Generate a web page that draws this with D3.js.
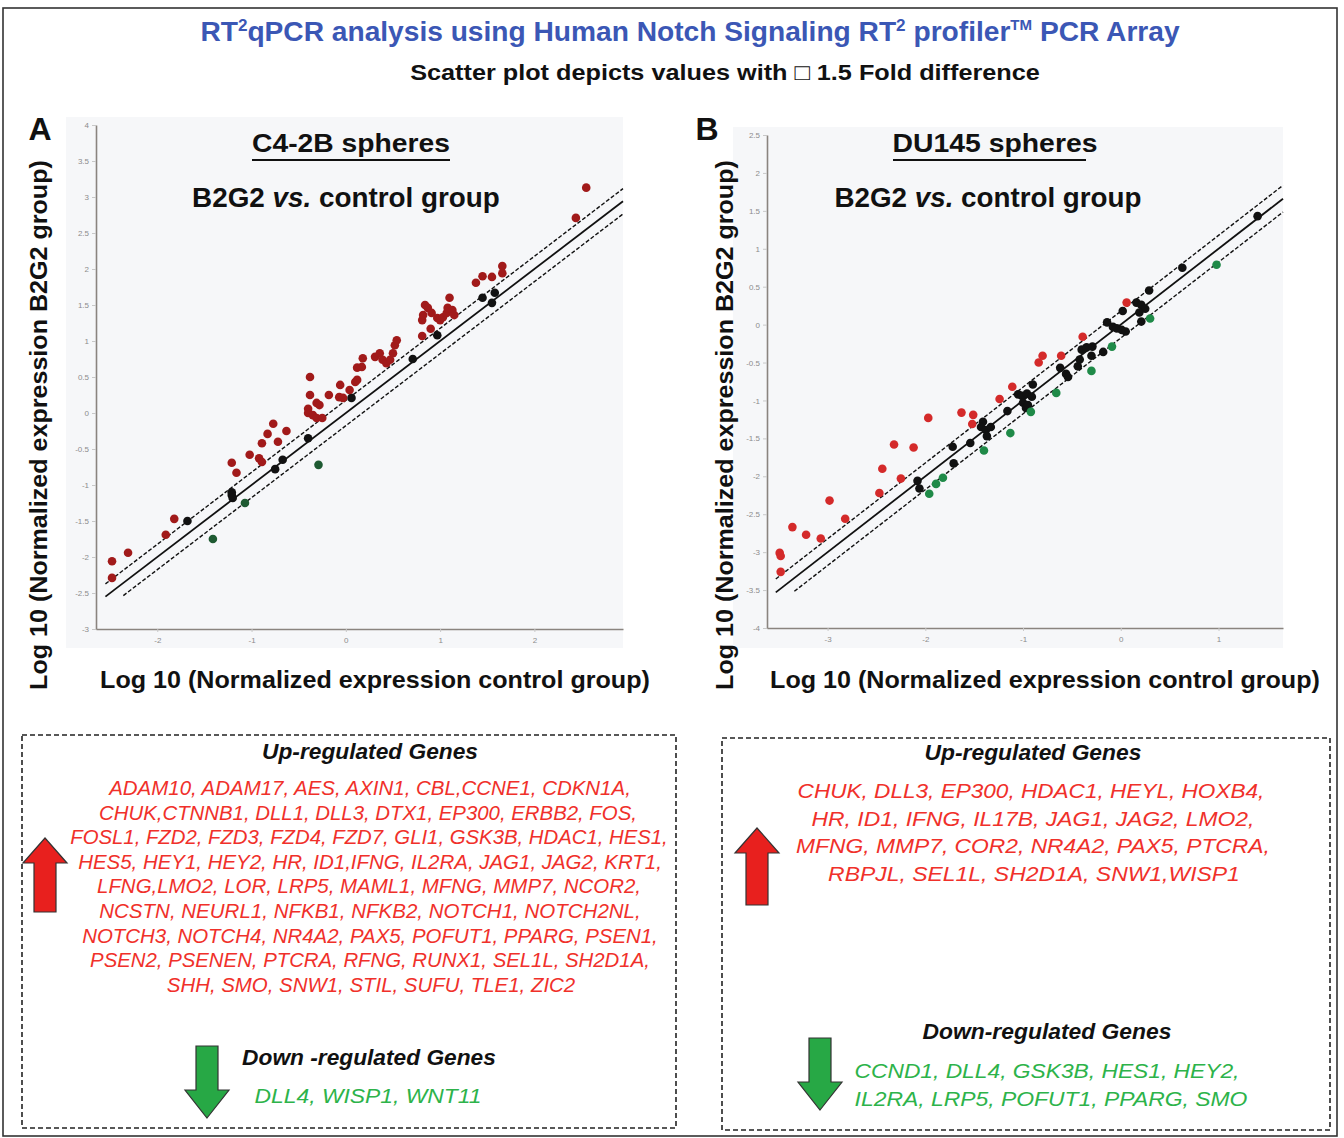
<!DOCTYPE html>
<html><head><meta charset="utf-8">
<script src="https://cdn.jsdelivr.net/npm/d3@7"></script>
<style>body{margin:0;background:#fff}svg{display:block}</style>
</head><body>
<svg id="chart" width="1344" height="1138"></svg>
<script>
// ---------- DATA (log10 normalized expression: [control, B2G2]) ----------
const c42bUp = [[2.55,3.13],[2.44,2.71],[-2.48,-2.06],[-2.31,-1.94],[-2.48,-2.29],[-1.91,-1.69],[-1.82,-1.47],
 [-1.21,-0.69],[-1.16,-0.83],[-1.02,-0.58],[-0.92,-0.63],[-0.89,-0.68],[-0.89,-0.42],[-0.83,-0.29],[-0.77,-0.15],
 [-0.72,-0.40],[-0.63,-0.25],[-0.38,0.50],[-0.38,0.25],[-0.40,0.06],[-0.40,0.00],[-0.31,0.14],[-0.28,0.11],
 [-0.35,-0.03],[-0.31,-0.07],[-0.25,-0.07],[-0.18,0.25],[-0.06,0.39],[-0.07,0.22],[-0.03,0.21],[0.04,0.32],
 [0.10,0.43],[0.12,0.46],[0.12,0.63],[0.17,0.64],[0.18,0.76],[0.31,0.78],[0.36,0.83],[0.39,0.74],[0.43,0.69],
 [0.47,0.74],[0.50,0.83],[0.52,0.94],[0.54,1.01],[0.81,1.07],[0.90,1.17],[0.81,1.29],[0.82,1.36],[0.84,1.50],
 [0.87,1.46],[0.91,1.39],[0.97,1.32],[1.00,1.29],[1.03,1.33],[1.07,1.39],[1.08,1.46],[1.10,1.60],[1.13,1.43],
 [1.15,1.36],[1.38,1.81],[1.45,1.90],[1.55,1.89],[1.66,2.04],[1.66,1.94]];
const c42bSame = [[-1.68,-1.50],[-1.21,-1.10],[-1.21,-1.14],[-1.20,-1.18],[-0.75,-0.78],[-0.67,-0.65],[-0.40,-0.35],
 [0.06,0.21],[0.71,0.75],[0.97,1.08],[1.45,1.60],[1.58,1.67],[1.55,1.53]];
const c42bDown = [[-1.41,-1.75],[-1.07,-1.25],[-0.29,-0.72]];

const du145Up = [[-3.49,-3.01],[-3.48,-3.05],[-3.48,-3.26],[-3.36,-2.67],[-3.22,-2.77],[-3.07,-2.82],[-2.98,-2.32],
 [-2.82,-2.56],[-2.47,-2.22],[-2.44,-1.90],[-2.32,-1.58],[-2.25,-2.03],[-2.12,-1.62],[-1.97,-1.23],[-1.63,-1.16],
 [-1.51,-1.19],[-1.52,-1.31],[-1.24,-0.98],[-1.11,-0.82],[-0.84,-0.50],[-0.80,-0.41],[-0.61,-0.41],[-0.39,-0.16],[0.06,0.29]];
const du145Same = [[-2.08,-2.06],[-2.06,-2.16],[-1.72,-1.61],[-1.71,-1.83],[-1.54,-1.56],[-1.41,-1.28],[-1.43,-1.35],
 [-1.38,-1.39],[-1.33,-1.35],[-1.37,-1.47],[-1.16,-1.14],[-1.05,-0.92],[-1.01,-0.94],[-0.96,-0.91],[-0.91,-0.95],
 [-0.90,-0.79],[-1.00,-1.03],[-0.97,-1.10],[-0.95,-1.06],[-0.62,-0.57],[-0.56,-0.65],[-0.54,-0.69],[-0.44,-0.55],
 [-0.42,-0.46],[-0.40,-0.33],[-0.35,-0.30],[-0.29,-0.29],[-0.30,-0.41],[-0.18,-0.36],[-0.14,0.03],[-0.08,-0.03],
 [-0.04,-0.05],[0.01,-0.07],[0.05,-0.09],[0.02,0.18],[0.16,0.29],[0.21,0.26],[0.25,0.21],[0.19,0.16],[0.21,0.04],
 [0.29,0.45],[0.63,0.75],[1.40,1.43]];
const du145Down = [[-1.96,-2.23],[-1.89,-2.10],[-1.82,-2.02],[-1.40,-1.66],[-1.13,-1.43],[-0.92,-1.15],[-0.66,-0.90],
 [-0.30,-0.61],[-0.09,-0.29],[0.30,0.08],[0.98,0.79]];

const c42bYTicks = [4,3.5,3,2.5,2,1.5,1,0.5,0,-0.5,-1,-1.5,-2,-2.5,-3];
const c42bXTicks = [-2,-1,0,1,2];
const du145YTicks = [2.5,2,1.5,1,0.5,0,-0.5,-1,-1.5,-2,-2.5,-3,-3.5,-4];
const du145XTicks = [-3,-2,-1,0,1];

const FOLD = Math.log10(1.5);
// fold-line x extents [start of y=x & upper line, start of lower line, end]
const c42bLineX = [-2.55, -2.36, 2.94];
const du145LineX = [-3.53, -3.34, 1.66];

const leftUpGenes = ["ADAM10, ADAM17, AES, AXIN1, CBL,CCNE1, CDKN1A,",
 "CHUK,CTNNB1, DLL1, DLL3, DTX1, EP300, ERBB2, FOS,",
 "FOSL1, FZD2, FZD3, FZD4, FZD7, GLI1, GSK3B, HDAC1, HES1,",
 "HES5, HEY1, HEY2, HR, ID1,IFNG, IL2RA, JAG1, JAG2, KRT1,",
 "LFNG,LMO2, LOR, LRP5, MAML1, MFNG, MMP7, NCOR2,",
 "NCSTN, NEURL1, NFKB1, NFKB2, NOTCH1, NOTCH2NL,",
 "NOTCH3, NOTCH4, NR4A2, PAX5, POFUT1, PPARG, PSEN1,",
 "PSEN2, PSENEN, PTCRA, RFNG, RUNX1, SEL1L, SH2D1A,",
 "SHH, SMO, SNW1, STIL, SUFU, TLE1, ZIC2"];
const leftDownGenes = ["DLL4, WISP1, WNT11"];
const rightUpGenes = ["CHUK, DLL3, EP300, HDAC1, HEYL, HOXB4,",
 "HR, ID1, IFNG, IL17B, JAG1, JAG2, LMO2,",
 "MFNG, MMP7, COR2, NR4A2, PAX5, PTCRA,",
 "RBPJL, SEL1L, SH2D1A, SNW1,WISP1"];
const rightDownGenes = ["CCND1, DLL4, GSK3B, HES1, HEY2,",
 "IL2RA, LRP5, POFUT1, PPARG, SMO"];

// ---------- DRAWING ----------
const svg = d3.select('#chart');
const FONT = "'Liberation Sans', Arial, sans-serif";

function fit(sel, cx, target) {
  const n = sel.node();
  const w = n.getBBox().width;
  if (w > 0) sel.attr('transform', `translate(${cx},0) scale(${target / w},1) translate(${-cx},0)`);
  return sel;
}
function text(x, y, str, size, opts = {}) {
  const t = svg.append('text').attr('x', x).attr('y', y).attr('text-anchor', opts.anchor || 'middle')
    .attr('font-family', FONT).attr('font-size', size).attr('font-weight', opts.weight || 'bold')
    .attr('font-style', opts.style || 'normal').attr('fill', opts.fill || '#111').text(str);
  if (opts.width) fit(t, x, opts.width);
  return t;
}

// outer frame
svg.append('rect').attr('x', 3).attr('y', 8).attr('width', 1334).attr('height', 1128)
  .attr('fill', 'none').attr('stroke', '#333').attr('stroke-width', 1.6);

// title
const title = svg.append('text').attr('x', 690).attr('y', 41).attr('text-anchor', 'middle')
  .attr('font-family', FONT).attr('font-size', 28).attr('font-weight', 'bold').attr('fill', '#3b57b5');
title.append('tspan').text('RT');
title.append('tspan').attr('font-size', 17).attr('dy', -10).text('2');
title.append('tspan').attr('dy', 10).text('qPCR analysis using Human Notch Signaling RT');
title.append('tspan').attr('font-size', 17).attr('dy', -10).text('2');
title.append('tspan').attr('dy', 10).text(' profiler');
title.append('tspan').attr('font-size', 15).attr('dy', -11).text('TM');
title.append('tspan').attr('dy', 11).text(' PCR Array');
fit(title, 690, 980);

text(725, 80, 'Scatter plot depicts values with \u25A1 1.5 Fold difference', 22.5, {width: 630});

function panel(cfg) {
  const x = d3.scaleLinear().domain(cfg.xDomain).range(cfg.xRange);
  const y = d3.scaleLinear().domain(cfg.yDomain).range(cfg.yRange);
  const g = svg.append('g');
  g.append('rect').attr('x', cfg.bg[0]).attr('y', cfg.bg[1]).attr('width', cfg.bg[2]).attr('height', cfg.bg[3])
    .attr('fill', '#f6f7f9');
  const ya = g.append('g').attr('transform', `translate(${cfg.xRange[0]},0)`)
    .call(d3.axisLeft(y).tickValues(cfg.yTicks).tickFormat(d => String(d)).tickSize(4).tickSizeOuter(0).tickPadding(3));
  const xa = g.append('g').attr('transform', `translate(0,${cfg.yRange[0]})`)
    .call(d3.axisBottom(x).tickValues(cfg.xTicks).tickFormat(d => String(d)).tickSize(3).tickSizeOuter(0).tickPadding(5));
  [ya, xa].forEach(a => {
    a.select('.domain').attr('stroke', '#8a847f').attr('stroke-width', 1.6);
    a.selectAll('.tick line').attr('stroke', '#c8c8c8');
    a.selectAll('.tick text').attr('fill', '#8c8c8c').attr('font-size', 8).attr('font-family', FONT);
  });
  // fold lines
  const [x0, x0low, x1] = cfg.lineX;
  const seg = (a, b, off, dash, w) => g.append('line')
    .attr('x1', x(a)).attr('y1', y(a + off)).attr('x2', x(b)).attr('y2', y(b + off))
    .attr('stroke', '#111').attr('stroke-width', w).attr('stroke-dasharray', dash);
  seg(x0, x1, 0, null, 1.8);
  seg(x0, x1, FOLD, '4,2', 1.4);
  seg(x0low, x1, -FOLD, '4,2', 1.4);
  // points
  const groups = [[cfg.same, '#111111'], [cfg.up, cfg.upColor], [cfg.down, cfg.downColor]];
  groups.forEach(([data, col]) => {
    g.append('g').selectAll('circle').data(data).join('circle')
      .attr('cx', d => x(d[0])).attr('cy', d => y(d[1])).attr('r', 4.3).attr('fill', col);
  });
}

panel({xDomain: [-2.65, 2.94], xRange: [96, 623], yDomain: [-3, 4], yRange: [629, 125],
  bg: [66, 117, 557, 531], yTicks: c42bYTicks, xTicks: c42bXTicks, lineX: c42bLineX,
  up: c42bUp, same: c42bSame, down: c42bDown, upColor: '#a11a1a', downColor: '#1e5a32'});
panel({xDomain: [-3.62, 1.66], xRange: [767, 1283], yDomain: [-4, 2.5], yRange: [628, 135],
  bg: [733, 127, 550, 521], yTicks: du145YTicks, xTicks: du145XTicks, lineX: du145LineX,
  up: du145Up, same: du145Same, down: du145Down, upColor: '#d42a2a', downColor: '#1f8a48'});

// panel letters and headings
text(40, 140, 'A', 32, {});
text(707, 140, 'B', 32, {});
text(351, 152, 'C4-2B spheres', 25.5, {width: 198});
svg.append('line').attr('x1', 252).attr('x2', 450).attr('y1', 160).attr('y2', 160).attr('stroke', '#111').attr('stroke-width', 2);
text(995, 152, 'DU145 spheres', 25.5, {width: 205});
svg.append('line').attr('x1', 893).attr('x2', 1086).attr('y1', 160).attr('y2', 160).attr('stroke', '#111').attr('stroke-width', 2);

function vsLine(cx, y, w) {
  const t = svg.append('text').attr('x', cx).attr('y', y).attr('text-anchor', 'middle')
    .attr('font-family', FONT).attr('font-size', 28).attr('font-weight', 'bold').attr('fill', '#111');
  t.append('tspan').text('B2G2 ');
  t.append('tspan').attr('font-style', 'italic').text('vs.');
  t.append('tspan').text(' control group');
  fit(t, cx, w);
}
vsLine(346, 207, 308);
vsLine(988, 207, 307);

// axis labels
function yLabel(cx, cy, w) {
  const g = svg.append('g').attr('transform', `translate(${cx},${cy}) rotate(-90)`);
  const t = g.append('text').attr('x', 0).attr('y', 0).attr('text-anchor', 'middle')
    .attr('font-family', FONT).attr('font-size', 23).attr('font-weight', 'bold').attr('fill', '#111')
    .text('Log 10 (Normalized expression B2G2 group)');
  fit(t, 0, w);
}
yLabel(47, 425, 530);
yLabel(733, 425, 530);
text(375, 688, 'Log 10 (Normalized expression control group)', 23, {width: 550});
text(1045, 688, 'Log 10 (Normalized expression control group)', 23, {width: 550});

// gene boxes
function box(x, y, w, h) {
  svg.append('rect').attr('x', x).attr('y', y).attr('width', w).attr('height', h)
    .attr('fill', 'none').attr('stroke', '#222').attr('stroke-width', 1.6).attr('stroke-dasharray', '5,3');
}
box(22, 735, 654, 393);
box(722, 738, 608, 392);

const RED = '#f0302a', GREEN = '#2db34a';
text(370, 759, 'Up-regulated Genes', 21.5, {style: 'italic', width: 216});
const leftW = [524, 538, 598, 584, 544, 542, 576, 560, 409];
const leftCx = [370, 368, 369, 370, 369, 370, 370, 370, 371];
leftUpGenes.forEach((s, i) => text(leftCx[i], 795 + i * 24.6, s, 21, {weight: 'normal', style: 'italic', fill: RED, width: leftW[i]}));
text(369, 1065, 'Down -regulated Genes', 21.5, {style: 'italic', width: 254});
leftDownGenes.forEach((s, i) => text(368, 1103, s, 21, {weight: 'normal', style: 'italic', fill: GREEN, width: 227}));

text(1033, 760, 'Up-regulated Genes', 21.5, {style: 'italic', width: 217});
const rightW = [467, 443, 474, 412];
const rightCx = [1031, 1033, 1033, 1034];
rightUpGenes.forEach((s, i) => text(rightCx[i], 798 + i * 27.7, s, 21, {weight: 'normal', style: 'italic', fill: RED, width: rightW[i]}));
text(1047, 1039, 'Down-regulated Genes', 21.5, {style: 'italic', width: 249});
const rightDW = [385, 393];
const rightDCx = [1047, 1051];
rightDownGenes.forEach((s, i) => text(rightDCx[i], 1078 + i * 28, s, 21, {weight: 'normal', style: 'italic', fill: GREEN, width: rightDW[i]}));

// arrows
function arrow(cx, tipY, baseY, endY, fill) {
  const pts = [[cx, tipY], [cx + 22, baseY], [cx + 11, baseY], [cx + 11, endY], [cx - 11, endY], [cx - 11, baseY], [cx - 22, baseY]];
  svg.append('polygon').attr('points', pts.map(p => p.join(',')).join(' '))
    .attr('fill', fill).attr('stroke', '#333').attr('stroke-width', 1.2);
}
arrow(45, 838, 863, 912, '#e8201e');
arrow(757, 828, 853, 905, '#e8201e');
arrow(207, 1118, 1090, 1046, '#27a845');
arrow(820, 1110, 1082, 1038, '#27a845');
</script>
</body></html>
